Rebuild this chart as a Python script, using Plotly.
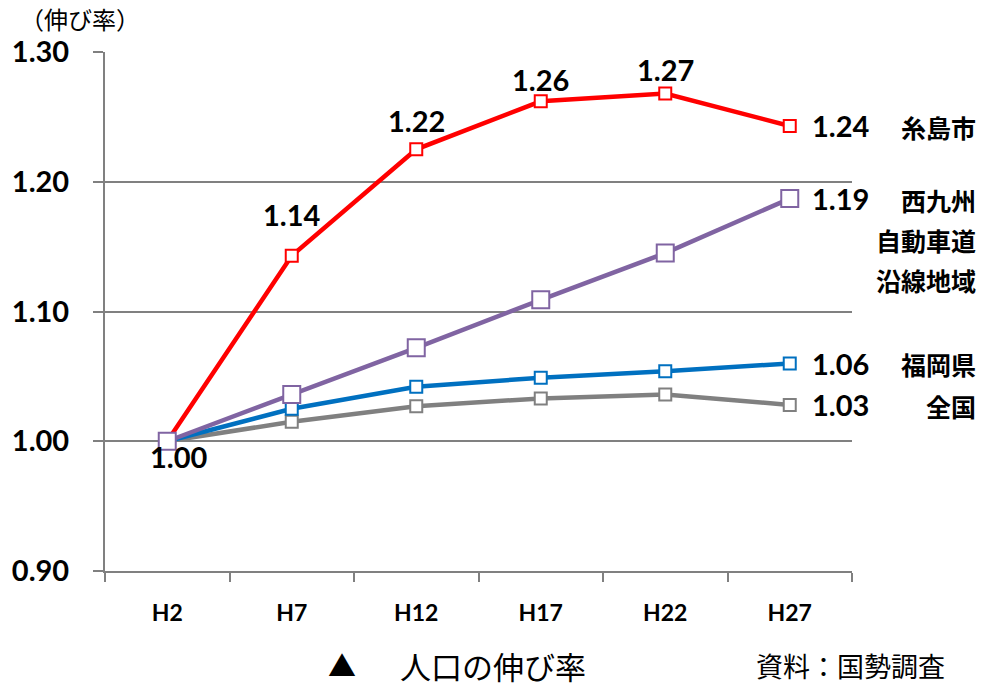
import plotly.graph_objects as go

years = ["H2", "H7", "H12", "H17", "H22", "H27"]
itoshima = [1.00, 1.143, 1.225, 1.262, 1.268, 1.243]
nishikyushu = [1.00, 1.036, 1.072, 1.109, 1.145, 1.187]
fukuoka = [1.00, 1.025, 1.042, 1.049, 1.054, 1.060]
zenkoku = [1.00, 1.015, 1.027, 1.033, 1.036, 1.028]
itoshima_labels = ["1.00", "1.14", "1.22", "1.26", "1.27"]
y_ticks = [0.90, 1.00, 1.10, 1.20, 1.30]
end_labels = ["1.24", "1.19", "1.06", "1.03"]
names = [["糸島市"], ["西九州", "自動車道", "沿線地域"], ["福岡県"], ["全国"]]

NUMF = "Lato, 'Noto Sans', sans-serif"
JPF = "'Noto Sans CJK JP', sans-serif"

fig = go.Figure()
series = [
    (zenkoku, "#808080", 12),
    (fukuoka, "#0070C0", 12),
    (itoshima, "#FF0000", 12),
    (nishikyushu, "#8064A2", 17),
]
for vals, col, ms in series:
    fig.add_trace(go.Scatter(
        x=years, y=vals, mode="lines+markers",
        line=dict(color=col, width=4.5),
        marker=dict(symbol="square", size=ms, color="white",
                    line=dict(color=col, width=2)),
        showlegend=False, hoverinfo="skip", cliponaxis=False))

# red labels above points
red_shift = [0, 41, 29, 22, 24]
for i in range(1, 5):
    fig.add_annotation(x=years[i], y=itoshima[i], text=itoshima_labels[i],
                       showarrow=False, yshift=red_shift[i],
                       font=dict(family=NUMF, size=29, color="black", weight="bold"))
fig.add_annotation(x=years[0], y=itoshima[0], text=itoshima_labels[0], showarrow=False,
                   xshift=12, yshift=-15,
                   font=dict(family=NUMF, size=29, color="black", weight="bold"))

# end labels
end_vals = [itoshima[-1], nishikyushu[-1], fukuoka[-1], zenkoku[-1]]
for lab, nm, v in zip(end_labels, names, end_vals):
    fig.add_annotation(x=years[-1], y=v, text=lab, showarrow=False,
                       xanchor="left", xshift=20,
                       font=dict(family=NUMF, size=29, color="black", weight="bold"))
    for k, line in enumerate(nm):
        fig.add_annotation(x=years[-1], y=v, text=line, showarrow=False,
                           xanchor="right", align="right", xshift=188,
                           yshift=-1 - 40 * k,
                           font=dict(family=JPF, size=25, color="black", weight="bold"))

fig.add_annotation(xref="paper", yref="paper", x=-0.117, y=1.064, text="（伸び率）",
                   showarrow=False, xanchor="left", yanchor="middle",
                   font=dict(family=JPF, size=24, color="black"))
fig.add_annotation(xref="paper", yref="paper", x=0.296, y=-0.182, text="▲",
                   showarrow=False, xanchor="left", yanchor="middle",
                   font=dict(family=JPF, size=28, color="black"))
fig.add_annotation(xref="paper", yref="paper", x=0.392, y=-0.182, text="人口の伸び率",
                   showarrow=False, xanchor="left", yanchor="middle",
                   font=dict(family=JPF, size=31, color="black"))
fig.add_annotation(xref="paper", yref="paper", x=0.869, y=-0.182, text="資料：国勢調査",
                   showarrow=False, xanchor="left", yanchor="middle",
                   font=dict(family=JPF, size=27, color="black"))

fig.update_layout(
    width=984, height=687,
    margin=dict(l=100, r=132, t=52, b=116),
    plot_bgcolor="white", paper_bgcolor="white",
    xaxis=dict(type="category", tickson="boundaries", ticks="outside", ticklen=9,
               tickcolor="#808080", tickwidth=2, showgrid=False,
               showline=True, linecolor="#808080", linewidth=2,
               tickfont=dict(family=NUMF, size=23, color="black", weight="bold"),
               ticklabelstandoff=20, range=[-0.5, 5.5]),
    yaxis=dict(range=[0.90, 1.30], tickvals=y_ticks,
               ticktext=[f"{t:.2f}" for t in y_ticks],
               ticks="outside", ticklen=10, tickcolor="#808080", tickwidth=2,
               showgrid=True, gridcolor="#808080", gridwidth=2,
               showline=True, linecolor="#808080", linewidth=2, zeroline=False,
               tickfont=dict(family=NUMF, size=29, color="black", weight="bold"),
               ticklabelstandoff=18),
)
fig.write_html("out.html", config={"displayModeBar": False},
               post_script="document.body.style.margin='0';document.body.style.padding='0';")
